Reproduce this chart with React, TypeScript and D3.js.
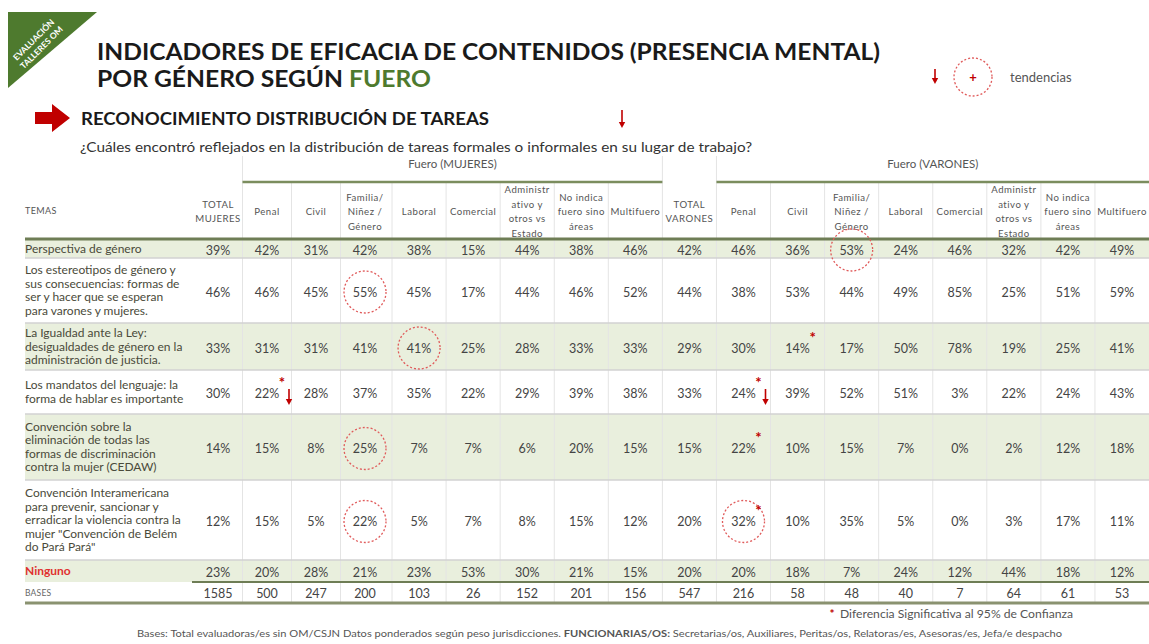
import React from 'react';
import * as d3 from 'd3';

// ---------- DATA ----------
const columns = [
  "TOTAL\nMUJERES", "Penal", "Civil", "Familia/\nNiñez /\nGénero", "Laboral", "Comercial",
  "Administr\nativo y\notros vs\nEstado", "No indica\nfuero sino\náreas", "Multifuero",
  "TOTAL\nVARONES", "Penal", "Civil", "Familia/\nNiñez /\nGénero", "Laboral", "Comercial",
  "Administr\nativo y\notros vs\nEstado", "No indica\nfuero sino\náreas", "Multifuero",
];
const groups = [
  { label: "Fuero (MUJERES)", from: 1, to: 8 },
  { label: "Fuero (VARONES)", from: 10, to: 17 },
];
const themes = [
  ["Perspectiva de género"],
  ["Los estereotipos de género y", "sus consecuencias: formas de", "ser y hacer que se esperan", "para varones y mujeres."],
  ["La Igualdad ante la Ley:", "desigualdades de género en la", "administración de justicia."],
  ["Los mandatos del lenguaje: la", "forma de hablar es importante"],
  ["Convención sobre la", "eliminación de todas las", "formas de discriminación", "contra la mujer (CEDAW)"],
  ["Convención Interamericana", "para prevenir, sancionar y", "erradicar la violencia contra la", "mujer \"Convención de Belém", "do Pará Pará\""],
  ["Ninguno"],
];
const perspectiva = [39, 42, 31, 42, 38, 15, 44, 38, 46, 42, 46, 36, 53, 24, 46, 32, 42, 49];
const estereotipos = [46, 46, 45, 55, 45, 17, 44, 46, 52, 44, 38, 53, 44, 49, 85, 25, 51, 59];
const igualdad = [33, 31, 31, 41, 41, 25, 28, 33, 33, 29, 30, 14, 17, 50, 78, 19, 25, 41];
const mandatos = [30, 22, 28, 37, 35, 22, 29, 39, 38, 33, 24, 39, 52, 51, 3, 22, 24, 43];
const cedaw = [14, 15, 8, 25, 7, 7, 6, 20, 15, 15, 22, 10, 15, 7, 0, 2, 12, 18];
const belem = [12, 15, 5, 22, 5, 7, 8, 15, 12, 20, 32, 10, 35, 5, 0, 3, 17, 11];
const ninguno = [23, 20, 28, 21, 23, 53, 30, 21, 15, 20, 20, 18, 7, 24, 12, 44, 18, 12];
const bases = [1585, 500, 247, 200, 103, 26, 152, 201, 156, 547, 216, 58, 48, 40, 7, 64, 61, 53];
const rowValues = [perspectiva, estereotipos, igualdad, mandatos, cedaw, belem, ninguno];

// annotations by (row, column)
const trendCircles = [[0, 12], [1, 3], [2, 4], [4, 3], [5, 3], [5, 10]];
const significant = [[2, 11], [3, 1], [3, 10], [4, 10], [5, 10]];
const downArrows = [[3, 1], [3, 10]];

// ---------- LAYOUT ----------
const W = 1149, H = 644;
const LEFT = 25;
const FONT = "Lato, 'Open Sans', sans-serif";
const RED = "#c00000";
const GREEN = "#4e7a2e";
const rowHeights = [19, 65, 47, 44, 66, 80, 22, 21];
const tableTop = 239;

const x = d3.scaleLinear().domain([0, 1, 3, 17]).range([218, 267, 365, 1122]);
const rowTops = [tableTop, ...Array.from(d3.cumsum(rowHeights)).map(v => tableTop + v)];
const rowY = (i: number) => rowTops[i];
const rowMid = (i: number) => rowTops[i] + rowHeights[i] / 2;

function DownArrow({ cx, y1, y2 }: { cx: number; y1: number; y2: number }) {
  return (
    <g>
      <line x1={cx} x2={cx} y1={y1} y2={y2 - 4} stroke={RED} strokeWidth={1.6} />
      <path d={`M${cx - 3.2},${y2 - 6} L${cx + 3.2},${y2 - 6} L${cx},${y2} Z`} fill={RED} />
    </g>
  );
}

export default function App() {
  const nCols = columns.length;
  const nRows = rowValues.length;
  const fmt = (v: number) => `${v}%`;
  return (
    <svg width={W} height={H} style={{ position: 'absolute', left: 0, top: 0, background: '#fff' }} fontFamily={FONT}>
      {/* badge */}
      <polygon points="8,12 97,12 8,88" fill={GREEN} />
      <g transform="translate(38,44) rotate(-45)" fill="#fff" fontSize={8.5} fontWeight={700} textAnchor="middle">
        <text x={0} y={-3}>EVALUACIÓN</text>
        <text x={0} y={8}>TALLERES OM</text>
      </g>

      {/* title */}
      <text x={97} y={60} fontSize={23} fontWeight={700} fill="#1a1a1a" textLength={783} lengthAdjust="spacingAndGlyphs">
        INDICADORES DE EFICACIA DE CONTENIDOS (PRESENCIA MENTAL)
      </text>
      <text x={97} y={87} fontSize={23} fontWeight={700} fill="#1a1a1a" textLength={334} lengthAdjust="spacingAndGlyphs">
        POR GÉNERO SEGÚN <tspan fill={GREEN}>FUERO</tspan>
      </text>

      {/* legend */}
      <DownArrow cx={935} y1={69} y2={84} />
      <circle cx={973} cy={77} r={19} fill="none" stroke="#e05a5a" strokeWidth={1.3} strokeDasharray="2,2" />
      <text x={973} y={81.5} fontSize={13} fontWeight={700} fill={RED} textAnchor="middle">+</text>
      <text x={1010} y={82} fontSize={13} fill="#555">tendencias</text>

      {/* subtitle */}
      <path d="M35,112 L52,112 L52,104 L70,118 L52,132 L52,124 L35,124 Z" fill={RED} />
      <text x={81} y={125} fontSize={16.5} fontWeight={700} fill="#1a1a1a" textLength={408} lengthAdjust="spacingAndGlyphs">
        RECONOCIMIENTO DISTRIBUCIÓN DE TAREAS
      </text>
      <DownArrow cx={622} y1={110} y2={128} />
      <text x={80} y={152} fontSize={14} fill="#333" textLength={672} lengthAdjust="spacingAndGlyphs">
        ¿Cuáles encontró reflejados en la distribución de tareas formales o informales en su lugar de trabajo?
      </text>

      {/* row backgrounds */}
      {rowValues.map((_, i) => i % 2 === 0 ? (
        <rect key={`bg${i}`} x={LEFT} y={rowY(i)} width={W - LEFT} height={rowHeights[i]} fill="#e9efdd" />
      ) : null)}

      {/* vertical separators */}
      {d3.range(nCols - 1).map(i => {
        const tall = i === 0 || i === 8 || i === 9;
        return (
          <line key={`v${i}`} x1={x(i + 0.5)} x2={x(i + 0.5)} y1={tall ? 156 : 183} y2={rowY(nRows + 1)}
            stroke="#e4e4e4" strokeWidth={1} />
        );
      })}

      {/* row separators */}
      {d3.range(1, nRows).map(i => (
        <line key={`h${i}`} x1={LEFT} x2={W} y1={rowY(i)} y2={rowY(i)} stroke="#d2d2d2" strokeWidth={1.3} />
      ))}

      {/* group headers */}
      {groups.map(g => (
        <g key={g.label}>
          <text x={(x(g.from - 0.5) + Math.min(x(g.to + 0.5), W)) / 2} y={168} fontSize={11.5} fill="#555" textAnchor="middle">{g.label}</text>
          <line x1={x(g.from - 0.5)} x2={Math.min(x(g.to + 0.5), W)} y1={182} y2={182} stroke="#7b8d5e" strokeWidth={2.5} />
        </g>
      ))}

      {/* column headers */}
      <text x={LEFT} y={214} fontSize={9} fill="#555" letterSpacing={0.4}>TEMAS</text>
      {columns.map((c, i) => {
        const lines = c.split("\n");
        const lh = 14.5;
        const y0 = 212 - (lines.length - 1) * lh / 2 + 3;
        return (
          <text key={`c${i}`} x={x(i)} fontSize={9.6} fill="#555" textAnchor="middle" letterSpacing={0.5}>
            {lines.map((l, k) => <tspan key={k} x={x(i)} y={y0 + k * lh}>{l}</tspan>)}
          </text>
        );
      })}
      <line x1={LEFT} x2={W} y1={tableTop} y2={tableTop} stroke="#6e7d55" strokeWidth={3} />

      {/* row labels */}
      {themes.map((lines, i) => {
        const lh = 13.5;
        const y0 = rowMid(i) - (lines.length - 1) * lh / 2 + 4;
        const isNone = i === nRows - 1;
        return (
          <text key={`t${i}`} x={LEFT} fontSize={12} fontWeight={isNone ? 700 : 400}
            fill={isNone ? "#e0312f" : "#4a4a3a"}>
            {lines.map((l, k) => <tspan key={k} x={LEFT} y={y0 + k * lh}>{l}</tspan>)}
          </text>
        );
      })}
      <text x={LEFT} y={rowMid(nRows) + 3.5} fontSize={8.5} fill="#666" letterSpacing={0.2}>BASES</text>

      {/* values */}
      {rowValues.map((vals, i) => vals.map((v, j) => (
        <text key={`val${i}-${j}`} x={x(j)} y={rowMid(i) + 6} fontSize={12.5} fill="#444" textAnchor="middle">{fmt(v)}</text>
      )))}
      {bases.map((v, j) => (
        <text key={`b${j}`} x={x(j)} y={rowMid(nRows) + 5} fontSize={12.5} fill="#444" textAnchor="middle">{v}</text>
      ))}

      {/* lines around bases */}
      <line x1={192} x2={W} y1={rowY(nRows)} y2={rowY(nRows)} stroke="#6e7d55" strokeWidth={2} />
      <line x1={LEFT} x2={W} y1={rowY(nRows + 1)} y2={rowY(nRows + 1)} stroke="#8a9270" strokeWidth={3} />

      {/* trend circles */}
      {trendCircles.map(([r, c], k) => (
        <circle key={`tc${k}`} cx={x(c)} cy={rowMid(r) + 1.5} r={21} fill="none" stroke="#e05a5a"
          strokeWidth={1.3} strokeDasharray="2,2" />
      ))}
      {/* significance stars */}
      {significant.map(([r, c], k) => (
        <text key={`s${k}`} x={x(c) + 15} y={rowMid(r) - 4} fontSize={15} fontWeight={700} fill={RED} textAnchor="middle">*</text>
      ))}
      {downArrows.map(([r, c], k) => (
        <DownArrow key={`da${k}`} cx={x(c) + 22} y1={rowMid(r) - 3} y2={rowMid(r) + 13} />
      ))}

      {/* notes */}
      <text x={832} y={618} fontSize={12} fontWeight={700} fill={RED} textAnchor="middle">*</text>
      <text x={840} y={618} fontSize={11} fill="#555" textLength={233} lengthAdjust="spacingAndGlyphs">
        Diferencia Significativa al 95% de Confianza
      </text>
      <text x={137} y={637} fontSize={9.5} fill="#555" textLength={925} lengthAdjust="spacingAndGlyphs">
        Bases: Total evaluadoras/es sin OM/CSJN Datos ponderados según peso jurisdicciones. <tspan fontWeight={700}>FUNCIONARIAS/OS:</tspan> Secretarias/os, Auxiliares, Peritas/os, Relatoras/es, Asesoras/es, Jefa/e despacho
      </text>
    </svg>
  );
}
